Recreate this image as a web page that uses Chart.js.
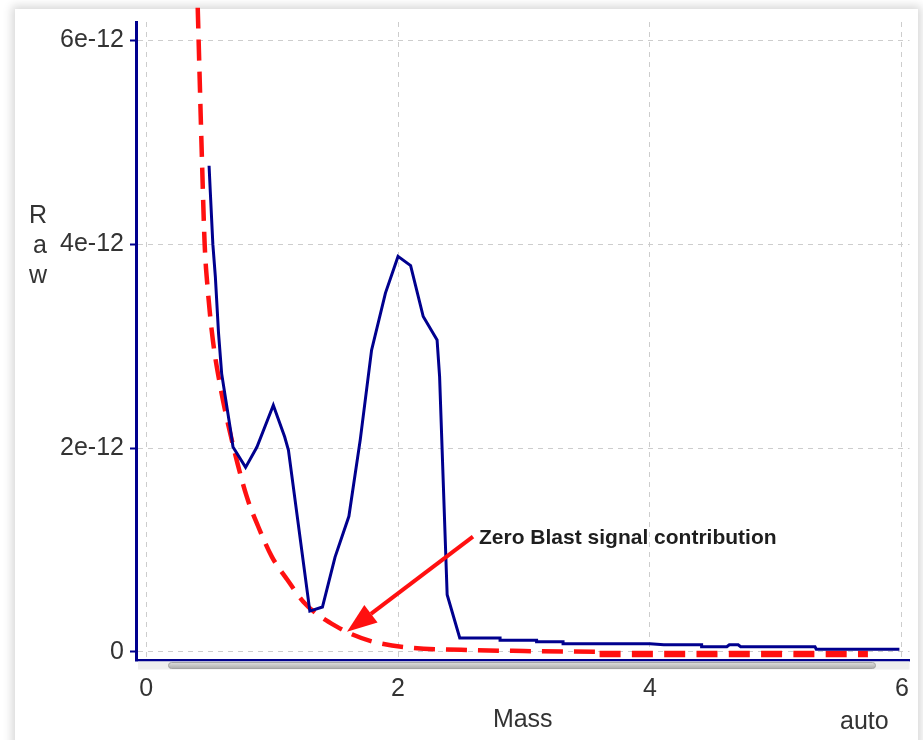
<!DOCTYPE html>
<html>
<head>
<meta charset="utf-8">
<script src="https://cdn.jsdelivr.net/npm/chart.js@4.4.1/dist/chart.umd.min.js"></script>
<style>
html, body { margin: 0; padding: 0; background: #fff; }
body { width: 923px; height: 740px; position: relative; overflow: hidden; }
#panel { position: absolute; left: 15px; top: 9px; width: 903px; height: 760px; background: #fff; box-shadow: 0 0 9px 3px rgba(0,0,0,0.16); }
#wrap { position: absolute; left: 0; top: 0; width: 923px; height: 740px; }
</style>
</head>
<body>
<div id="panel"></div>
<div id="wrap"><canvas id="chartRaw" width="923" height="740"></canvas></div>
<script>
// values on the y axis are in units of 1e-12
var massTicks = [0, 2, 4, 6];
var massTickLabels = ['0', '2', '4', '6'];
var rawTicks = [0, 2, 4, 6];
var rawTickLabels = ['0', '2e-12', '4e-12', '6e-12'];

// measured signal (blue)
var massBlue = [0.5, 0.51, 0.53, 0.55, 0.575, 0.6, 0.67, 0.69, 0.79, 0.88, 1.01, 1.1, 1.13, 1.3, 1.4, 1.5, 1.61, 1.7, 1.79, 1.9, 2.0, 2.1, 2.2, 2.31, 2.33, 2.39, 2.49, 2.81, 2.81, 3.1, 3.1, 3.31, 3.31, 4.0, 4.11, 4.41, 4.41, 4.61, 4.63, 4.7, 4.72, 5.31, 5.32, 5.98];
var rawBlue = [4.77, 4.51, 4.0, 3.68, 3.13, 2.73, 2.18, 2.01, 1.81, 2.01, 2.42, 2.11, 1.98, 0.40, 0.44, 0.93, 1.33, 2.08, 2.96, 3.52, 3.88, 3.79, 3.29, 3.06, 2.70, 0.56, 0.137, 0.137, 0.115, 0.115, 0.10, 0.10, 0.08, 0.08, 0.07, 0.07, 0.05, 0.05, 0.07, 0.07, 0.05, 0.05, 0.026, 0.026];

// zero blast contribution (red dashed)
var massRed = [0.41, 0.445, 0.465, 0.49, 0.53, 0.59, 0.68, 0.80, 0.89, 1.0, 1.12, 1.25, 1.38, 1.51, 1.62, 1.8, 2.1, 2.5, 3.0, 3.6];
var rawRed = [6.32, 4.77, 4.0, 3.55, 3.06, 2.6, 2.08, 1.52, 1.23, 0.93, 0.71, 0.49, 0.35, 0.25, 0.18, 0.1, 0.04, 0.02, 0.008, 0.0];
var massRedTail = [3.6, 5.73];
var rawRedTail = [-0.02, -0.02];

// annotation (data coords)
var noteText = 'Zero Blast signal contribution';
var noteTip = [1.595, 0.196];
var noteTail = [2.595, 1.13];
var notePos = [2.643, 1.06];

var navy = '#00008e';
var red = '#ff1010';
var txt = '#333333';
var gridCol = '#cdcdcd';
var tickFont = { family: 'Liberation Sans, Arial, sans-serif', size: 25 };

function pts(xs, ys) {
  return xs.map(function (x, i) { return { x: x, y: ys[i] }; });
}

var decor = {
  id: 'decor',
  afterDraw: function (chart) {
    var ctx = chart.ctx, xs = chart.scales.x, ys = chart.scales.y;
    var area = chart.chartArea;
    ctx.save();
    // scroll bar under the x axis
    ctx.fillStyle = '#eeeeee';
    ctx.fillRect(area.left + 2, area.bottom + 1.5, area.right - area.left - 2, 8);
    var g = ctx.createLinearGradient(0, area.bottom + 2, 0, area.bottom + 8);
    g.addColorStop(0, '#e2e2e2');
    g.addColorStop(1, '#b0b0b0');
    ctx.fillStyle = g;
    ctx.strokeStyle = '#a4a4a4';
    ctx.lineWidth = 1;
    ctx.beginPath();
    ctx.roundRect(168.5, area.bottom + 2.5, 707, 6, 3);
    ctx.fill();
    ctx.stroke();

    // axis titles
    ctx.fillStyle = txt;
    ctx.font = '25px "Liberation Sans", Arial, sans-serif';
    ctx.textAlign = 'center';
    ctx.textBaseline = 'alphabetic';
    ctx.fillText('R', 38, 223);
    ctx.fillText('a', 40, 253);
    ctx.fillText('w', 38, 283);
    ctx.textAlign = 'left';
    ctx.fillText('auto', 840, 729);

    // arrow
    var tx = xs.getPixelForValue(noteTip[0]), ty = ys.getPixelForValue(noteTip[1]);
    var sx = xs.getPixelForValue(noteTail[0]), sy = ys.getPixelForValue(noteTail[1]);
    var a = Math.atan2(ty - sy, tx - sx);
    var hl = 30, hw = 11;
    var bx = tx - hl * Math.cos(a), by = ty - hl * Math.sin(a);
    ctx.strokeStyle = red;
    ctx.fillStyle = red;
    ctx.lineWidth = 4;
    ctx.beginPath();
    ctx.moveTo(sx, sy);
    ctx.lineTo(bx, by);
    ctx.stroke();
    ctx.beginPath();
    ctx.moveTo(tx, ty);
    ctx.lineTo(bx + hw * Math.sin(a), by - hw * Math.cos(a));
    ctx.lineTo(bx - hw * Math.sin(a), by + hw * Math.cos(a));
    ctx.closePath();
    ctx.fill();

    ctx.fillStyle = '#1e1e1e';
    ctx.font = 'bold 21px "Liberation Sans", Arial, sans-serif';
    ctx.textAlign = 'left';
    ctx.fillText(noteText, xs.getPixelForValue(notePos[0]), ys.getPixelForValue(notePos[1]));
    ctx.restore();
  }
};

var ctx = document.getElementById('chartRaw').getContext('2d');
var chart = new Chart(ctx, {
  type: 'line',
  data: {
    datasets: [{
      label: 'Raw',
      data: pts(massBlue, rawBlue),
      borderColor: navy,
      borderWidth: 3,
      pointRadius: 0,
      tension: 0,
      fill: false
    }, {
      label: 'Zero blast',
      data: pts(massRed, rawRed),
      borderColor: red,
      borderWidth: 4.5,
      borderDash: [21, 11],
      pointRadius: 0,
      cubicInterpolationMode: 'monotone',
      fill: false,
      clip: false
    }, {
      label: 'Zero blast tail',
      data: pts(massRedTail, rawRedTail),
      borderColor: red,
      borderWidth: 6.5,
      borderDash: [21, 11.3],
      borderCapStyle: 'butt',
      pointRadius: 0,
      fill: false,
      clip: false
    }]
  },
  options: {
    responsive: false,
    devicePixelRatio: 1,
    animation: false,
    layout: { padding: { left: 0, top: 22, right: 13, bottom: 0 } },
    plugins: { legend: { display: false }, tooltip: { enabled: false } },
    scales: {
      x: {
        type: 'linear',
        min: -0.08,
        max: 6.06,
        afterBuildTicks: function (s) { s.ticks = massTicks.map(function (v) { return { value: v }; }); },
        afterFit: function (s) { s.height = 80; },
        grid: { color: gridCol, lineWidth: 1, drawTicks: false },
        border: { color: navy, width: 2.5, dash: [5, 5] },
        ticks: {
          font: tickFont, color: txt, padding: 14, maxRotation: 0,
          callback: function (v, i) { return massTickLabels[i]; }
        },
        title: { display: true, text: 'Mass', font: tickFont, color: txt, padding: { top: 0, bottom: 5 } }
      },
      y: {
        type: 'linear',
        min: -0.08,
        max: 6.18,
        afterBuildTicks: function (s) { s.ticks = rawTicks.map(function (v) { return { value: v }; }); },
        afterFit: function (s) { s.width = 136; },
        grid: { color: gridCol, lineWidth: 1, drawTicks: true, tickLength: 6, tickColor: navy, tickWidth: 2 },
        border: { color: navy, width: 3, dash: [5, 5] },
        ticks: {
          font: tickFont, color: txt, padding: 6,
          callback: function (v, i) { return rawTickLabels[i]; }
        }
      }
    }
  },
  plugins: [decor]
});
</script>
</body>
</html>
